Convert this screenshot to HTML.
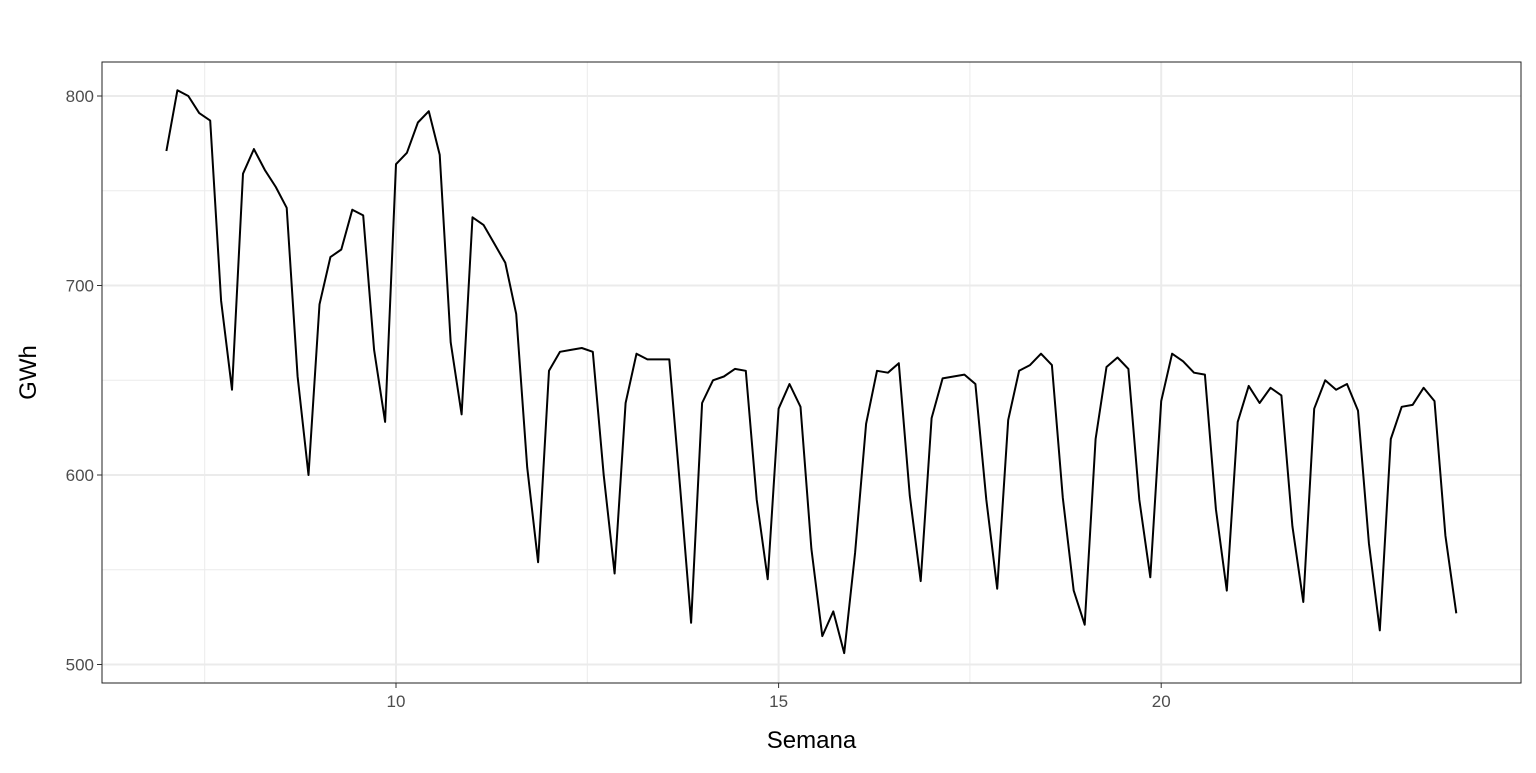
<!DOCTYPE html>
<html><head><meta charset="utf-8"><style>
body{margin:0;background:#fff;}
svg text{font-family:"Liberation Sans",Arial,sans-serif;}
</style></head><body>
<svg id="chart" width="1536" height="768" xmlns="http://www.w3.org/2000/svg"></svg>
<script>
const values=[771,803,800,791,787,692,645,759,772,761,752,741,652,600,690,715,719,740,737,666,628,764,770,786,792,769,670,632,736,732,722,712,685,604,554,655,665,666,667,665,600,548,638,664,661,661,661,593,522,638,650,652,656,655,587,545,635,648,636,561,515,528,506,559,627,655,654,659,589,544,630,651,652,653,648,587,540,629,655,658,664,658,588,539,521,619,657,662,656,587,546,639,664,660,654,653,582,539,628,647,638,646,642,573,533,635,650,645,648,634,564,518,619,636,637,646,639,568,527];
const startWeek=7;
const xTicks=[10,15,20];
const xMinor=[7.5,12.5,17.5,22.5];
const yTicks=[500,600,700,800];
const yMinor=[550,650,750];
const NS="http://www.w3.org/2000/svg";
const svg=document.getElementById('chart');
const L=102,R=1521,T=62,B=683;
const sx=w=>396+(w-10)*76.52;
const sy=v=>96+(800-v)*1.895;
function mk(t,a){const e=document.createElementNS(NS,t);for(const k in a)e.setAttribute(k,a[k]);svg.appendChild(e);return e;}
const bg=mk('rect',{x:L,y:T,width:R-L,height:B-T,fill:'#fff'});


yMinor.forEach(v=>{const l=mk('line',{x1:L,x2:R,y1:sy(v),y2:sy(v),stroke:'#ebebeb','stroke-width':1});

});
xMinor.forEach(v=>{const l=mk('line',{x1:sx(v),x2:sx(v),y1:T,y2:B,stroke:'#ebebeb','stroke-width':1});

});
yTicks.forEach(v=>{const l=mk('line',{x1:L,x2:R,y1:sy(v),y2:sy(v),stroke:'#ebebeb','stroke-width':2});


const tk=mk('line',{x1:L-5,x2:L,y1:sy(v),y2:sy(v),stroke:'#333','stroke-width':1});


const t=mk('text',{x:L-8,y:sy(v)+6,'text-anchor':'end','font-size':17,fill:'#4d4d4d'});t.textContent=v;

});
xTicks.forEach(v=>{const l=mk('line',{x1:sx(v),x2:sx(v),y1:T,y2:B,stroke:'#ebebeb','stroke-width':2});


const tk=mk('line',{x1:sx(v),x2:sx(v),y1:B,y2:B+5,stroke:'#333','stroke-width':1});


const t=mk('text',{x:sx(v),y:B+24,'text-anchor':'middle','font-size':17,fill:'#4d4d4d'});t.textContent=v;

});
const pts=values.map((v,i)=>sx(startWeek+i/7).toFixed(1)+','+sy(v).toFixed(1)).join(' ');
const line=mk('polyline',{points:pts,fill:'none',stroke:'#000','stroke-width':2,'stroke-linejoin':'round'});


const fr=mk('rect',{x:L,y:T,width:R-L,height:B-T,fill:'none',stroke:'#222','stroke-width':1});


const xt=mk('text',{x:(L+R)/2,y:748,'text-anchor':'middle','font-size':24,fill:'#000'});xt.textContent='Semana';


const yt=mk('text',{x:0,y:0,'text-anchor':'middle','font-size':24,fill:'#000',transform:`translate(36,${(T+B)/2}) rotate(-90)`});yt.textContent='GWh';


</script>
</body></html>
